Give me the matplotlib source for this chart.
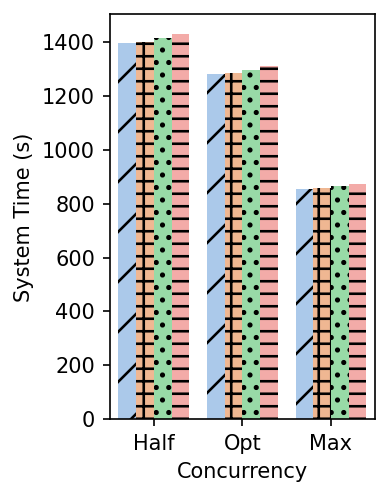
import matplotlib
matplotlib.use("Agg")
import matplotlib.pyplot as plt
import numpy as np
import seaborn as sns

categories = ["Half", "Opt", "Max"]
series_names = ["A", "B", "C", "D"]
series_a = [1396, 1279, 853]
series_b = [1400, 1284, 856]
series_c = [1415, 1296, 865]
series_d = [1430, 1309, 872]
series = [series_a, series_b, series_c, series_d]
hatches = ["/", "++", "..", "--"]

plt.rcParams["font.family"] = ["DejaVu Sans"]
plt.rcParams["font.size"] = 10
plt.rcParams["hatch.color"] = "black"
plt.rcParams["hatch.linewidth"] = 1.25

pal = [sns.desaturate(c, 0.75) for c in sns.color_palette("pastel")[:4]]

fig = plt.figure(figsize=(2.6, 3.32), dpi=150)
ax = fig.add_axes([0.281, 0.158, 0.681, 0.813])

x = np.arange(len(categories))
w = 0.2
for i, vals in enumerate(series):
    ax.bar(x - 0.3 + i * w, vals, width=w, color=pal[i], hatch=hatches[i],
           linewidth=0, label=series_names[i])

ax.set_xticks(x)
ax.set_xticklabels(categories)
ax.set_xlim(-0.5, 2.5)
ax.set_xlabel("Concurrency")
ax.set_ylabel("System Time (s)")

fig.savefig("out.png", dpi=150)
